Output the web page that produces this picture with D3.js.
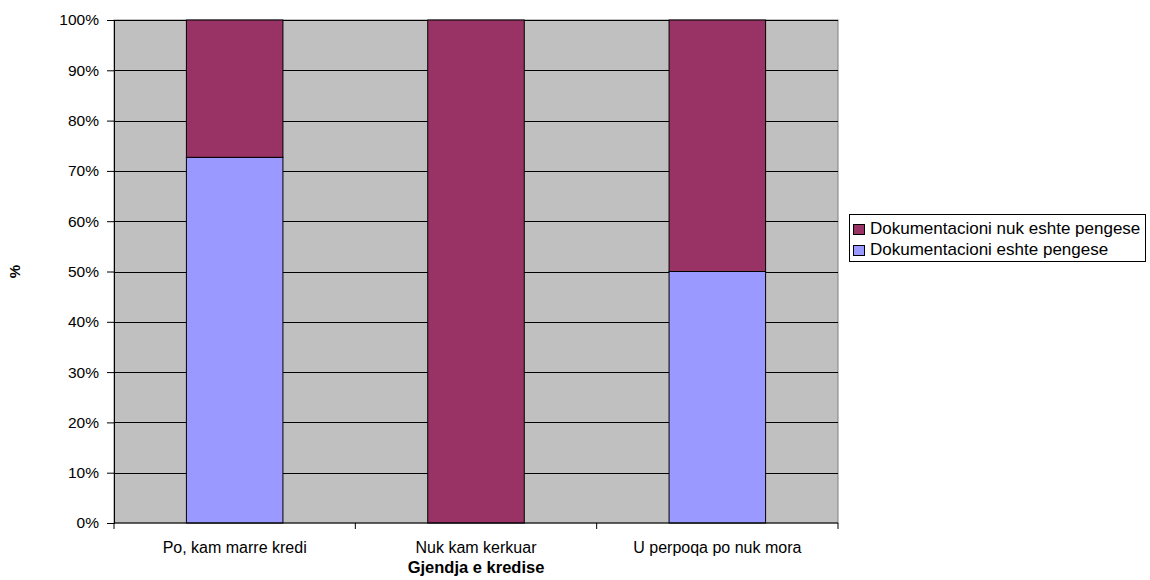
<!DOCTYPE html>
<html>
<head>
<meta charset="utf-8">
<script src="https://cdn.jsdelivr.net/npm/d3@7"></script>
<style>
  body { margin: 0; background: #fff; }
  text { font-family: "Liberation Sans", Arial, sans-serif; }
</style>
</head>
<body>
<script>
const categories = ["Po, kam marre kredi", "Nuk kam kerkuar", "U perpoqa po nuk mora"];
const seriesNames = ["Dokumentacioni eshte pengese", "Dokumentacioni nuk eshte pengese"];
const pengese = [72.7, 0, 50];
const nukPengese = [27.3, 100, 50];
const yTicks = [0, 10, 20, 30, 40, 50, 60, 70, 80, 90, 100];
const colors = ["#9999ff", "#993366"];

const width = 1150, height = 580;
const margin = { top: 20, right: 312, bottom: 57, left: 114 };

const svg = d3.select('body').append('svg')
    .attr('width', width)
    .attr('height', height);

const x = d3.scaleBand()
    .domain(categories)
    .range([margin.left, width - margin.right])
    .paddingInner(0.6)
    .paddingOuter(0.3);

const xOuter = d3.scaleBand()
    .domain(categories)
    .range([margin.left, width - margin.right]);

const y = d3.scaleLinear()
    .domain([0, 100])
    .range([height - margin.bottom, margin.top]);

// plot area
svg.append('rect')
    .attr('x', margin.left)
    .attr('y', margin.top)
    .attr('width', width - margin.right - margin.left)
    .attr('height', height - margin.bottom - margin.top)
    .attr('fill', '#c0c0c0')
    .attr('stroke', '#808080')
    .attr('stroke-width', 1);

// gridlines
svg.append('g')
    .selectAll('line')
    .data(yTicks.filter(d => d > 0))
    .enter()
    .append('line')
    .attr('x1', margin.left)
    .attr('x2', width - margin.right)
    .attr('y1', d => Math.round(y(d)) + 0.5)
    .attr('y2', d => Math.round(y(d)) + 0.5)
    .attr('stroke', '#000')
    .attr('stroke-width', 1);

const stacked = d3.stack().keys([0, 1])(categories.map((c, i) => ({ cat: c, 0: pengese[i], 1: nukPengese[i] })));

stacked.forEach((layer, k) => {
    svg.append('g')
        .selectAll('rect')
        .data(layer.filter(d => d[1] - d[0] > 0))
        .enter()
        .append('rect')
        .attr('x', d => x(d.data.cat))
        .attr('y', d => y(d[1]))
        .attr('width', x.bandwidth())
        .attr('height', d => y(d[0]) - y(d[1]))
        .attr('fill', colors[k])
        .attr('stroke', '#000')
        .attr('stroke-width', 1);
});

// y axis
const yAxis = svg.append('g')
    .attr('transform', `translate(${margin.left},0)`)
    .call(d3.axisLeft(y).tickValues(yTicks).tickFormat(d => d + '%').tickSize(7).tickPadding(8));
yAxis.selectAll('text').attr('font-size', 15.5).attr('fill', '#000').attr('font-family', '"Liberation Sans", Arial, sans-serif');
yAxis.selectAll('line').attr('stroke', '#000');
yAxis.select('.domain').attr('stroke', '#000');

// x axis
const xAxis = svg.append('g')
    .attr('transform', `translate(0,${height - margin.bottom})`);
xAxis.append('line')
    .attr('x1', margin.left)
    .attr('x2', width - margin.right)
    .attr('stroke', '#000');
xAxis.selectAll('line.tick')
    .data(categories.concat(['end']))
    .enter()
    .append('line')
    .attr('class', 'tick')
    .attr('x1', (d, i) => i < categories.length ? xOuter(d) : width - margin.right)
    .attr('x2', (d, i) => i < categories.length ? xOuter(d) : width - margin.right)
    .attr('y1', 0)
    .attr('y2', 6)
    .attr('stroke', '#000');
xAxis.selectAll('text')
    .data(categories)
    .enter()
    .append('text')
    .attr('x', d => xOuter(d) + xOuter.bandwidth() / 2)
    .attr('y', 30)
    .attr('text-anchor', 'middle')
    .attr('font-size', 16)
    .text(d => d);

// axis titles
svg.append('text')
    .attr('x', (margin.left + width - margin.right) / 2)
    .attr('y', 573)
    .attr('text-anchor', 'middle')
    .attr('font-size', 16.5)
    .attr('font-weight', 'bold')
    .text('Gjendja e kredise');

svg.append('text')
    .attr('transform', `translate(20,${(margin.top + height - margin.bottom) / 2}) rotate(-90)`)
    .attr('text-anchor', 'middle')
    .attr('font-size', 15)
    .attr('font-weight', 'bold')
    .text('%');

// legend
const legend = svg.append('g').attr('transform', 'translate(849,214)');
legend.append('rect')
    .attr('x', 0.5).attr('y', 0.5)
    .attr('width', 296).attr('height', 47)
    .attr('fill', '#fff')
    .attr('stroke', '#000');
const legendItems = [1, 0];
legend.selectAll('g.item')
    .data(legendItems)
    .enter()
    .append('g')
    .attr('class', 'item')
    .attr('transform', (d, i) => `translate(4,${10 + i * 21})`)
    .each(function (k) {
        const g = d3.select(this);
        g.append('rect')
            .attr('x', 0.5).attr('y', 0.5)
            .attr('width', 11).attr('height', 10)
            .attr('fill', colors[k])
            .attr('stroke', '#000');
        g.append('text')
            .attr('x', 17)
            .attr('y', 10)
            .attr('font-size', 17)
            .text(seriesNames[k]);
    });
</script>
</body>
</html>
